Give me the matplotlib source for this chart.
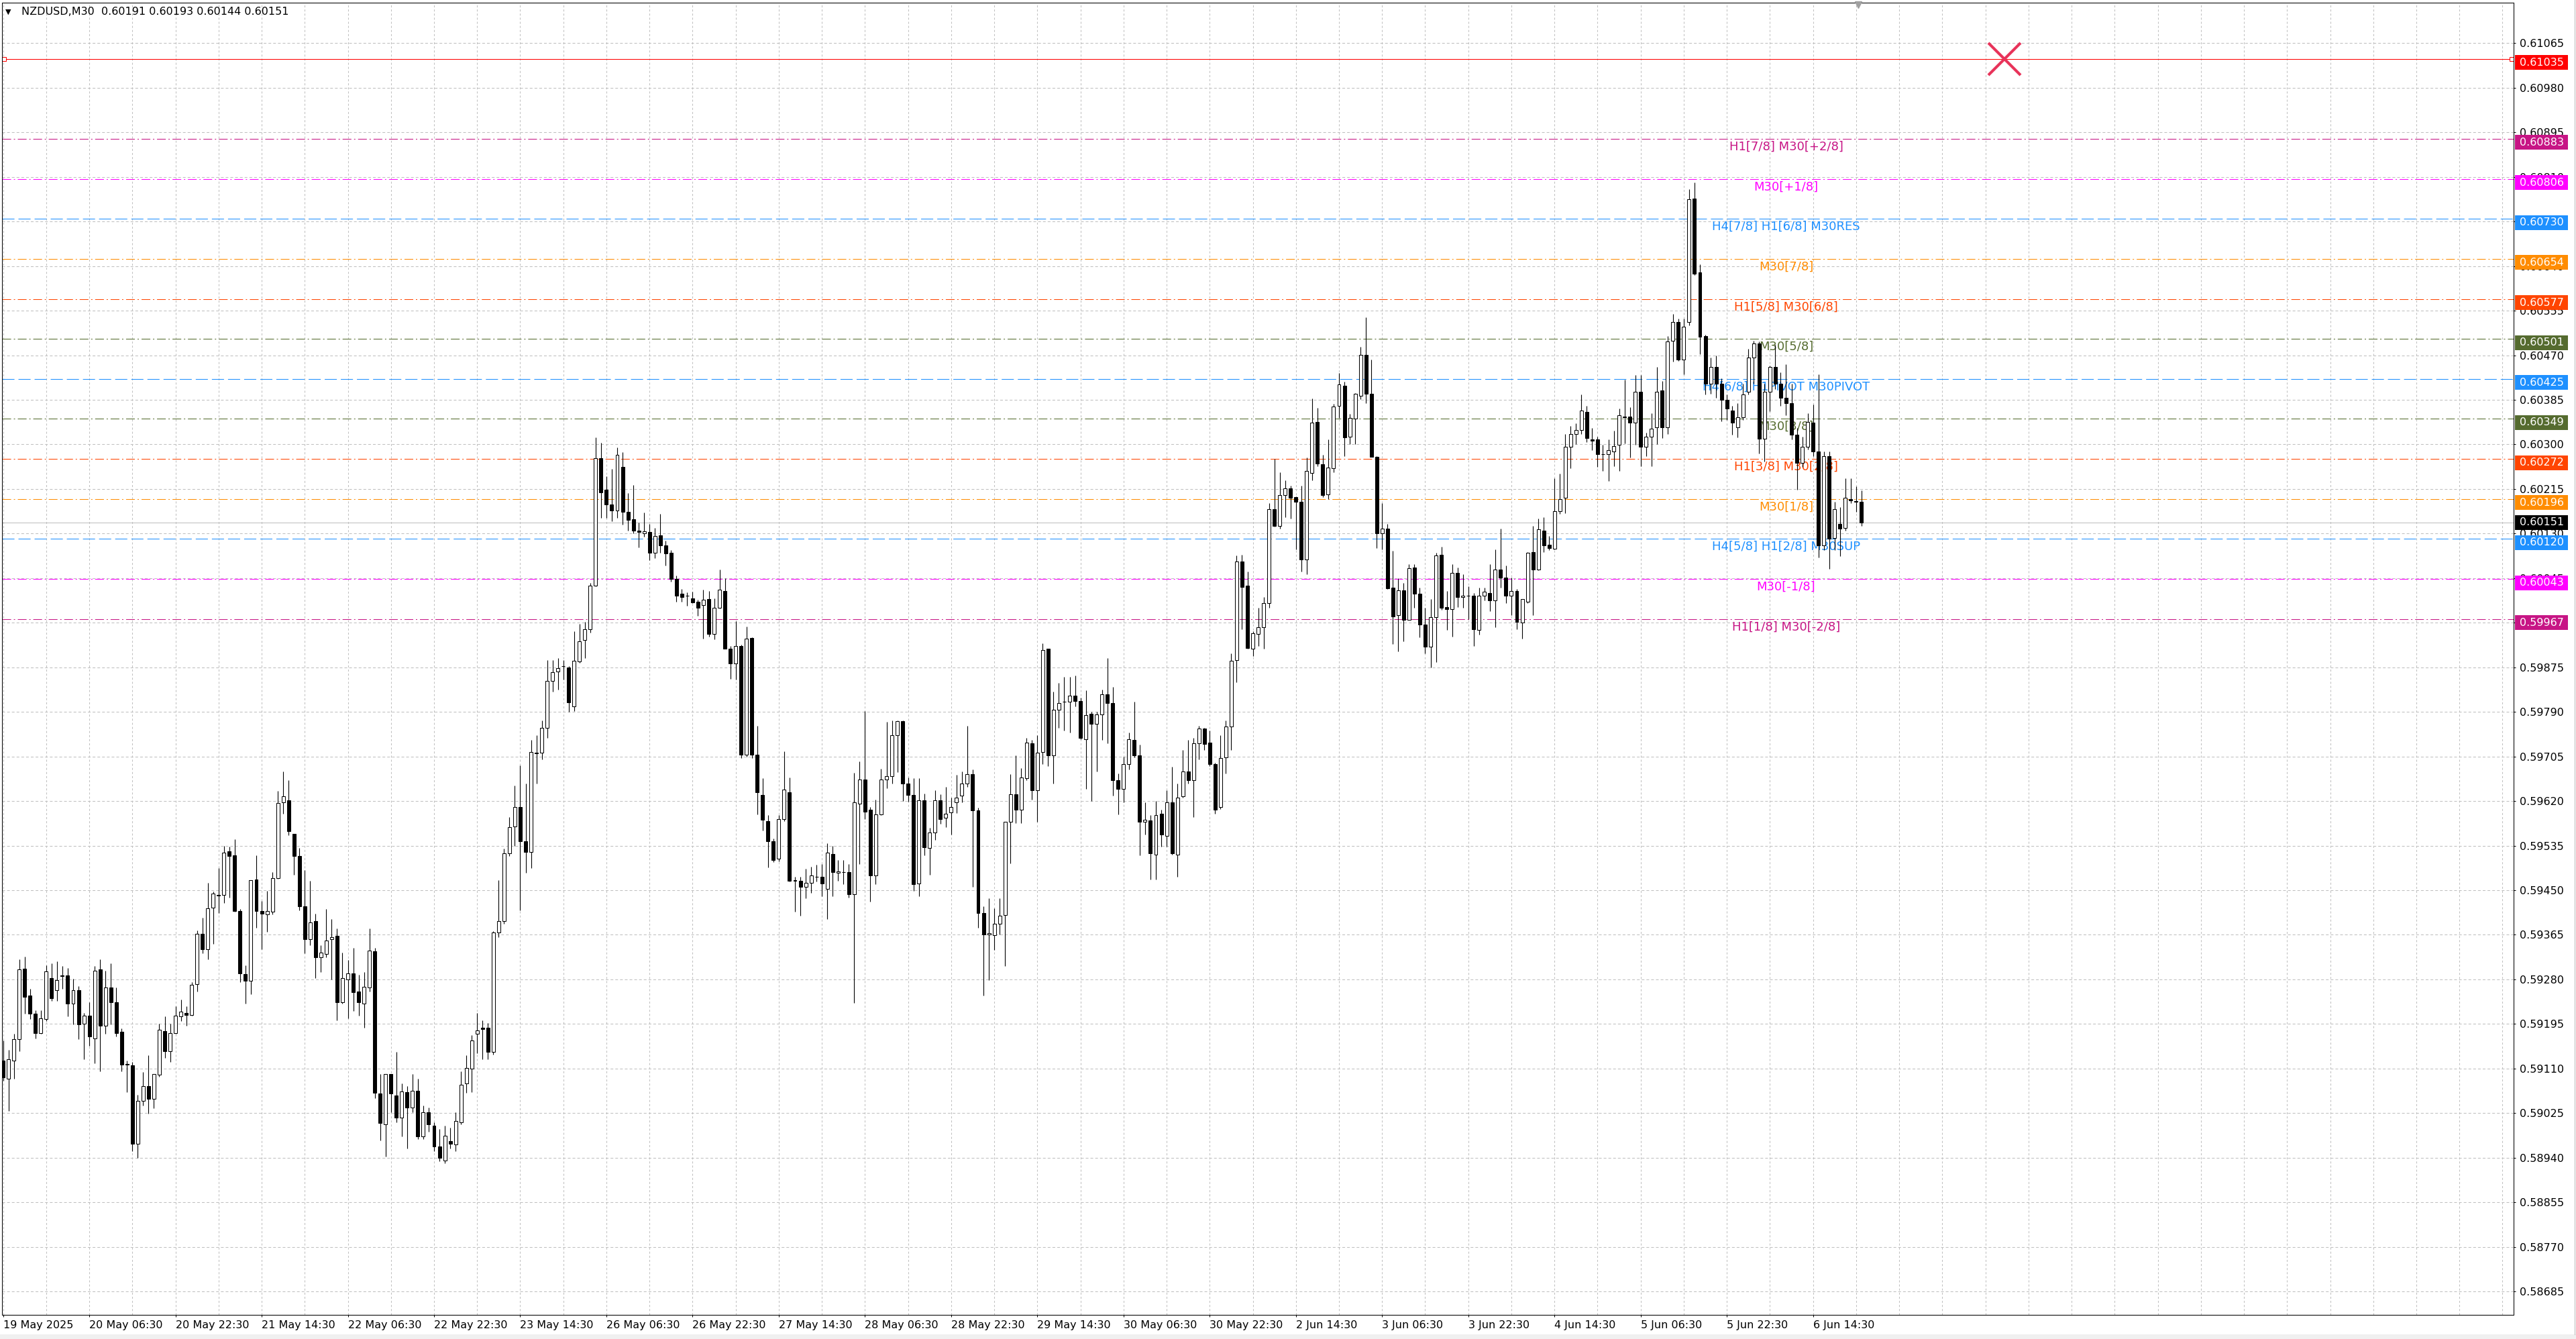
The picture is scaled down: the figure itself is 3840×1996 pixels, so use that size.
import numpy as np
import matplotlib.pyplot as plt
from matplotlib.patches import Rectangle
from matplotlib.lines import Line2D
from matplotlib.transforms import blended_transform_factory

plt.rcParams['font.family'] = ['DejaVu Sans']
plt.rcParams['lines.scale_dashes'] = False

# NZDUSD hourly candles (price * 1e5)
opens = [59125, 59090, 59125, 59166, 59300, 59249, 59214, 59178, 59204, 59282,
         59259, 59288, 59288, 59234, 59259, 59196, 59211, 59167, 59299, 59191,
         59264, 59236, 59180, 59119, 59116, 58967, 59048, 59077, 59052, 59098,
         59181, 59143, 59178, 59209, 59216, 59212, 59271, 59367, 59338, 59417,
         59440, 59441, 59524, 59516, 59410, 59290, 59277, 59470, 59410, 59404,
         59409, 59473, 59617, 59622, 59558, 59515, 59419, 59356, 59391, 59322,
         59329, 59356, 59363, 59237, 59280, 59291, 59257, 59234, 59264, 59334,
         59062, 59004, 59099, 59059, 59017, 59065, 59036, 59068, 58980, 59027,
         59001, 58962, 58934, 58971, 58965, 59008, 59082, 59110, 59176, 59188,
         59188, 59142, 59369, 59391, 59520, 59572, 59609, 59543, 59523, 59712,
         59712, 59759, 59849, 59867, 59877, 59875, 59801, 59886, 59927, 59948,
         60031, 60274, 60214, 60185, 60174, 60257, 60172, 60158, 60135, 60131,
         60133, 60094, 60127, 60108, 60093, 60044, 60016, 60011, 60007, 60000,
         59994, 60005, 59939, 59989, 60021, 59910, 59882, 59915, 59708, 59931,
         59708, 59632, 59582, 59543, 59510, 59585, 59637, 59468, 59468, 59457,
         59464, 59475, 59476, 59452, 59519, 59483, 59484, 59484, 59442, 59615,
         59661, 59603, 59478, 59594, 59661, 59668, 59745, 59772, 59654, 59632,
         59463, 59621, 59531, 59560, 59621, 59588, 59598, 59617, 59630, 59653,
         59671, 59602, 59406, 59366, 59364, 59386, 59403, 59580, 59633, 59604,
         59663, 59730, 59640, 59714, 59910, 59707, 59794, 59810, 59809, 59821,
         59811, 59738, 59786, 59767, 59785, 59824, 59807, 59660, 59643, 59690,
         59737, 59707, 59580, 59583, 59518, 59596, 59553, 59618, 59518, 59629,
         59677, 59660, 59730, 59758, 59732, 59690, 59609, 59703, 59762, 59889,
         60077, 60031, 59911, 59939, 59951, 59997, 60177, 60145, 60204, 60216,
         60199, 60191, 60080, 60245, 60343, 60262, 60205, 60255, 60374, 60412,
         60315, 60349, 60393, 60471, 60397, 60276, 60130, 60140, 60027, 59975,
         60022, 59966, 60065, 60015, 59956, 59914, 59970, 60089, 59990, 59986,
         60055, 60009, 60012, 60011, 59946, 60012, 60017, 60003, 60061, 60046,
         60011, 60021, 59961, 60000, 60095, 60062, 60136, 60109, 60101, 60173,
         60198, 60295, 60320, 60328, 60362, 60310, 60310, 60282, 60281, 60286,
         60299, 60352, 60353, 60342, 60400, 60295, 60315, 60332, 60403, 60332,
         60498, 60533, 60462, 60533, 60769, 60628, 60506, 60416, 60448, 60416,
         60385, 60364, 60332, 60352, 60400, 60466, 60493, 60311, 60400, 60448,
         60416, 60389, 60379, 60318, 60265, 60296, 60342, 60286, 60108, 60278,
         60121, 60148, 60141, 60196, 60192, 60191]
highs = [59163, 59146, 59176, 59318, 59323, 59262, 59221, 59221, 59307, 59310,
         59315, 59305, 59302, 59281, 59267, 59216, 59237, 59305, 59318, 59297,
         59310, 59264, 59186, 59125, 59123, 59060, 59103, 59135, 59100, 59196,
         59210, 59196, 59229, 59242, 59229, 59275, 59373, 59398, 59464, 59447,
         59492, 59535, 59533, 59547, 59414, 59307, 59469, 59516, 59429, 59449,
         59484, 59639, 59676, 59660, 59558, 59530, 59489, 59468, 59405, 59345,
         59414, 59395, 59377, 59331, 59317, 59340, 59289, 59294, 59377, 59340,
         59100, 59100, 59100, 59142, 59082, 59077, 59099, 59091, 59040, 59036,
         59008, 58994, 59001, 58997, 59027, 59105, 59135, 59174, 59216, 59202,
         59197, 59372, 59469, 59529, 59589, 59649, 59688, 59653, 59736, 59746,
         59773, 59889, 59889, 59893, 59889, 59877, 59944, 59958, 59962, 60036,
         60313, 60303, 60239, 60253, 60294, 60285, 60207, 60222, 60151, 60170,
         60148, 60141, 60168, 60117, 60098, 60050, 60024, 60018, 60019, 60004,
         60023, 60021, 60007, 60061, 60045, 59915, 59963, 59918, 59953, 59932,
         59764, 59663, 59593, 59548, 59593, 59715, 59665, 59476, 59475, 59491,
         59495, 59498, 59500, 59539, 59534, 59507, 59507, 59500, 59674, 59695,
         59791, 59608, 59623, 59682, 59771, 59774, 59774, 59774, 59665, 59663,
         59663, 59634, 59569, 59641, 59633, 59647, 59627, 59670, 59677, 59764,
         59680, 59607, 59419, 59435, 59416, 59435, 59580, 59671, 59707, 59683,
         59740, 59737, 59745, 59921, 59911, 59829, 59845, 59857, 59857, 59859,
         59817, 59831, 59790, 59790, 59832, 59892, 59837, 59673, 59704, 59750,
         59809, 59727, 59618, 59593, 59620, 59604, 59640, 59685, 59653, 59717,
         59737, 59740, 59764, 59760, 59754, 59693, 59745, 59774, 59901, 60088,
         60090, 60058, 59944, 59989, 60009, 60188, 60272, 60247, 60232, 60221,
         60201, 60221, 60275, 60387, 60370, 60280, 60310, 60377, 60436, 60419,
         60358, 60398, 60486, 60543, 60462, 60277, 60188, 60149, 60097, 60045,
         60036, 60072, 60072, 60027, 59989, 60005, 60093, 60105, 60020, 60072,
         60065, 60053, 60029, 60017, 60027, 60027, 60072, 60100, 60140, 60069,
         60046, 60024, 60005, 60095, 60145, 60159, 60161, 60126, 60235, 60244,
         60320, 60335, 60340, 60395, 60373, 60331, 60315, 60299, 60310, 60326,
         60368, 60424, 60371, 60432, 60432, 60323, 60360, 60448, 60421, 60506,
         60549, 60540, 60540, 60787, 60800, 60644, 60509, 60466, 60469, 60426,
         60395, 60373, 60379, 60416, 60482, 60498, 60496, 60416, 60450, 60490,
         60437, 60453, 60416, 60331, 60315, 60360, 60376, 60434, 60286, 60286,
         60190, 60180, 60235, 60235, 60220, 60212]
lows = [59087, 59029, 59090, 59143, 59214, 59204, 59167, 59176, 59201, 59239,
        59239, 59262, 59209, 59194, 59166, 59128, 59153, 59120, 59105, 59176,
        59194, 59171, 59105, 59065, 58953, 58939, 59039, 59024, 59034, 59095,
        59130, 59123, 59176, 59201, 59191, 59211, 59257, 59330, 59318, 59348,
        59406, 59426, 59436, 59409, 59275, 59234, 59252, 59378, 59338, 59371,
        59404, 59472, 59596, 59555, 59479, 59411, 59330, 59345, 59283, 59294,
        59322, 59280, 59202, 59234, 59206, 59220, 59211, 59188, 59257, 59054,
        58973, 58942, 59027, 59008, 58980, 58957, 59027, 58976, 58976, 58990,
        58953, 58933, 58930, 58957, 58953, 59004, 59064, 59065, 59139, 59128,
        59128, 59137, 59360, 59386, 59515, 59534, 59412, 59483, 59492, 59653,
        59700, 59741, 59829, 59833, 59852, 59790, 59792, 59884, 59893, 59941,
        60030, 60160, 60160, 60153, 60160, 60147, 60135, 60131, 60103, 60124,
        60079, 60083, 60094, 60069, 60038, 60000, 60000, 59992, 59997, 59973,
        59930, 59934, 59928, 59987, 59910, 59853, 59852, 59702, 59704, 59702,
        59594, 59564, 59493, 59504, 59505, 59582, 59466, 59409, 59401, 59435,
        59445, 59466, 59439, 59395, 59439, 59468, 59461, 59436, 59235, 59500,
        59586, 59428, 59462, 59593, 59644, 59654, 59675, 59620, 59619, 59449,
        59439, 59517, 59480, 59546, 59576, 59570, 59556, 59597, 59618, 59647,
        59456, 59379, 59249, 59279, 59336, 59366, 59305, 59501, 59578, 59578,
        59660, 59623, 59580, 59690, 59687, 59653, 59760, 59754, 59750, 59801,
        59738, 59643, 59620, 59677, 59737, 59730, 59630, 59595, 59617, 59680,
        59703, 59516, 59556, 59471, 59471, 59533, 59533, 59518, 59476, 59627,
        59653, 59590, 59700, 59717, 59687, 59596, 59605, 59673, 59717, 59847,
        59948, 59910, 59896, 59915, 59911, 59989, 60143, 60140, 60161, 60159,
        60100, 60057, 60053, 60232, 60258, 60199, 60196, 60247, 60351, 60278,
        60300, 60301, 60386, 60379, 60276, 60102, 60100, 60024, 59920, 59906,
        59925, 59965, 59989, 59932, 59901, 59875, 59885, 59985, 59946, 59933,
        59990, 59989, 59967, 59915, 59937, 60002, 59982, 59951, 60027, 59998,
        59975, 59948, 59930, 59998, 59974, 60060, 60095, 60098, 60100, 60168,
        60169, 60255, 60300, 60320, 60304, 60289, 60257, 60249, 60230, 60259,
        60249, 60302, 60275, 60299, 60259, 60278, 60259, 60300, 60312, 60320,
        60458, 60459, 60434, 60527, 60623, 60472, 60395, 60397, 60389, 60344,
        60347, 60318, 60314, 60347, 60395, 60416, 60283, 60267, 60363, 60405,
        60373, 60355, 60310, 60214, 60257, 60291, 60278, 60084, 60098, 60063,
        60098, 60087, 60135, 60188, 60172, 60144]
closes = [59093, 59128, 59166, 59299, 59247, 59214, 59178, 59206, 59295, 59244,
          59278, 59286, 59234, 59259, 59194, 59211, 59171, 59297, 59191, 59264,
          59236, 59178, 59118, 59118, 58966, 59048, 59077, 59052, 59100, 59184,
          59143, 59177, 59211, 59219, 59212, 59270, 59367, 59338, 59415, 59443,
          59441, 59522, 59515, 59410, 59291, 59277, 59469, 59410, 59405, 59410,
          59473, 59616, 59629, 59562, 59515, 59419, 59356, 59388, 59322, 59331,
          59354, 59360, 59237, 59283, 59292, 59255, 59237, 59266, 59335, 59064,
          59006, 59099, 59062, 59017, 59066, 59036, 59068, 58980, 59027, 59004,
          58962, 58939, 58982, 58967, 59010, 59079, 59111, 59163, 59183, 59185,
          59142, 59369, 59391, 59520, 59570, 59609, 59543, 59523, 59713, 59711,
          59759, 59849, 59866, 59873, 59877, 59808, 59887, 59925, 59948, 60031,
          60274, 60209, 60185, 60174, 60280, 60172, 60156, 60135, 60133, 60134,
          60094, 60126, 60107, 60092, 60044, 60012, 60009, 60011, 59999, 59989,
          60004, 59939, 59989, 60023, 59910, 59882, 59916, 59708, 59930, 59708,
          59637, 59584, 59543, 59507, 59585, 59642, 59468, 59469, 59456, 59464,
          59478, 59475, 59463, 59522, 59484, 59486, 59484, 59442, 59617, 59661,
          59600, 59478, 59594, 59661, 59668, 59745, 59772, 59653, 59632, 59461,
          59621, 59532, 59560, 59621, 59586, 59596, 59609, 59627, 59653, 59671,
          59602, 59406, 59366, 59368, 59386, 59401, 59580, 59633, 59603, 59665,
          59732, 59640, 59712, 59908, 59707, 59794, 59807, 59809, 59821, 59811,
          59740, 59784, 59767, 59785, 59824, 59807, 59660, 59643, 59690, 59738,
          59707, 59580, 59584, 59520, 59593, 59556, 59618, 59520, 59627, 59677,
          59660, 59730, 59758, 59729, 59691, 59604, 59702, 59762, 59887, 60077,
          60028, 59912, 59940, 59952, 59997, 60177, 60145, 60203, 60216, 60198,
          60191, 60080, 60249, 60341, 60263, 60204, 60256, 60372, 60414, 60314,
          60351, 60396, 60471, 60397, 60276, 60130, 60140, 60026, 59972, 60022,
          59966, 60064, 60016, 59956, 59914, 59971, 60088, 59988, 59986, 60055,
          60009, 60012, 60011, 59947, 60011, 60019, 60003, 60062, 60046, 60011,
          60021, 59962, 60005, 60094, 60062, 60138, 60108, 60102, 60173, 60196,
          60295, 60320, 60328, 60365, 60312, 60307, 60282, 60281, 60289, 60297,
          60355, 60352, 60342, 60401, 60295, 60315, 60330, 60401, 60332, 60496,
          60533, 60462, 60524, 60767, 60625, 60505, 60416, 60448, 60416, 60385,
          60369, 60342, 60352, 60395, 60466, 60493, 60311, 60400, 60448, 60416,
          60389, 60379, 60318, 60265, 60295, 60343, 60286, 60108, 60278, 60120,
          60177, 60140, 60198, 60193, 60190, 60151]

title_text = "NZDUSD,M30  0.60191 0.60193 0.60144 0.60151"
time_labels = ['19 May 2025', '20 May 06:30', '20 May 22:30', '21 May 14:30',
               '22 May 06:30', '22 May 22:30', '23 May 14:30', '26 May 06:30',
               '26 May 22:30', '27 May 14:30', '28 May 06:30', '28 May 22:30',
               '29 May 14:30', '30 May 06:30', '30 May 22:30', '2 Jun 14:30',
               '3 Jun 06:30', '3 Jun 22:30', '4 Jun 14:30', '5 Jun 06:30',
               '5 Jun 22:30', '6 Jun 14:30']

# Murrey math levels
level_prices = [0.60883, 0.60806, 0.60730, 0.60654, 0.60577, 0.60501, 0.60425,
                0.60349, 0.60272, 0.60196, 0.60120, 0.60043, 0.59967]
level_names = ['H1[7/8] M30[+2/8]', 'M30[+1/8]', 'H4[7/8] H1[6/8] M30RES',
               'M30[7/8]', 'H1[5/8] M30[6/8]', 'M30[5/8]',
               'H4[6/8] H1PIVOT M30PIVOT', 'M30[3/8]', 'H1[3/8] M30[2/8]',
               'M30[1/8]', 'H4[5/8] H1[2/8] M30SUP', 'M30[-1/8]',
               'H1[1/8] M30[-2/8]']
level_colors = ['#C71585', '#FF00FF', '#1E90FF', '#FF8C00', '#FF4500', '#556B2F',
                '#1E90FF', '#556B2F', '#FF4500', '#FF8C00', '#1E90FF', '#FF00FF',
                '#C71585']
level_dashed = [False, False, True, False, False, False, True, False, False,
                False, True, False, False]
label_bar = 331

red_line_price = 0.61035
last_price = 0.60151
cross_bar = 371.5

o = np.array(opens) / 1e5
h = np.array(highs) / 1e5
l = np.array(lows) / 1e5
c = np.array(closes) / 1e5
x = np.arange(len(o))

fig = plt.figure(figsize=(38.4, 19.96), dpi=100)
ax = fig.add_axes([3 / 3840, 36 / 1996, 3744 / 3840, 1956 / 1996])
ax.set_xlim(-0.2, 466.06)
ax.set_ylim(0.586403, 0.611423)

# grid
ax.set_yticks(np.round(0.58685 + 0.00085 * np.arange(29), 5))
ax.yaxis.set_major_formatter(plt.FormatStrFormatter('%.5f'))
ax.set_xticks(np.arange(0, 337, 16))
ax.set_xticklabels(time_labels)
ax.set_xticks(np.arange(0, 466, 8), minor=True)
ax.grid(True, axis='y', which='major', color='#C0C0C0', lw=0.75, linestyle=(0, (2.9, 2.2)))
ax.grid(True, axis='x', which='both', color='#C0C0C0', lw=0.75, linestyle=(0, (2.2, 2.2)))
ax.set_axisbelow(True)

ax.yaxis.tick_right()
ax.tick_params(axis='y', labelsize=11.5, length=2.2, width=0.75, pad=4)
ax.tick_params(axis='x', which='major', labelsize=11.5, length=2.5, width=0.75, pad=3)
ax.tick_params(axis='x', which='minor', length=0)
for lbl in ax.get_xticklabels():
    lbl.set_ha('left')
for sp in ax.spines.values():
    sp.set_linewidth(0.75)
    sp.set_color('black')

# levels
for p, name, col, dashed in zip(level_prices, level_names, level_colors, level_dashed):
    ls = (0, (13, 4.3)) if dashed else (0, (9.4, 2.9, 1.4, 2.9))
    ax.axhline(p, color=col, lw=0.75, linestyle=ls, zorder=1)
    ax.annotate(name, xy=(label_bar, p), xytext=(0, -8.5), textcoords='offset points',
                ha='center', va='center', fontsize=13, color=col, zorder=2)

ax.axhline(red_line_price, color='red', lw=0.75, zorder=1)
ax.plot([0.2, 465.7], [red_line_price, red_line_price], ls='none', marker='s',
        ms=4, mfc='white', mec='red', mew=0.75, zorder=2, clip_on=False)
ax.axhline(last_price, color='#C0C0C0', lw=0.75, zorder=1)
ax.plot([cross_bar], [red_line_price], marker='x', ms=34, mew=3, color='#E8335A', zorder=5)

# candles
up = c >= o
ax.vlines(x, l, h, color='black', lw=0.8, zorder=3)
ax.bar(x, np.maximum(np.abs(c - o), 0.000006), bottom=np.minimum(o, c), width=0.62,
       color=np.where(up, 'white', 'black'), edgecolor='black', linewidth=0.75, zorder=4)

# price tags on the right scale
trans = blended_transform_factory(ax.transAxes, ax.transData)
box_h = 22 / 78177
tags = list(zip(level_prices, level_colors)) + [(red_line_price, '#FF0000')]
for p, col in tags:
    yc = p - 5.5 / 78177
    ax.add_patch(Rectangle((1.0005, yc - box_h / 2), 0.0211, box_h, transform=trans,
                           facecolor=col, edgecolor='none', clip_on=False, zorder=6))
    ax.text(1.0024, yc, '%.5f' % p, transform=trans, color='white', fontsize=11.5,
            va='center', ha='left', clip_on=False, zorder=7)
ax.add_patch(Rectangle((1.0005, last_price - box_h / 2), 0.0211, box_h, transform=trans,
                       facecolor='black', edgecolor='none', clip_on=False, zorder=6))
ax.text(1.0024, last_price, '%.5f' % last_price, transform=trans, color='white',
        fontsize=11.5, va='center', ha='left', clip_on=False, zorder=7)

# chart shift marker
ax.plot([344.4], [0.9985], transform=blended_transform_factory(ax.transData, ax.transAxes),
        marker='v', ms=7, color='#A0A0A0', clip_on=False, zorder=6)

fig.text(8 / 3840, 1 - 18 / 1996, '\u25bc', fontsize=8, va='center', ha='left')
fig.text(32 / 3840, 1 - 18 / 1996, title_text, fontsize=11.5, va='center', ha='left')

fig.patches.append(Rectangle((0, 0), 1, 7 / 1996, transform=fig.transFigure,
                             facecolor='#F0F0F0', edgecolor='none'))
fig.add_artist(Line2D([3838 / 3840] * 2, [7 / 1996, 1], transform=fig.transFigure,
                      color='#C8C8C8', lw=1))

fig.savefig('out.png', dpi=100)
